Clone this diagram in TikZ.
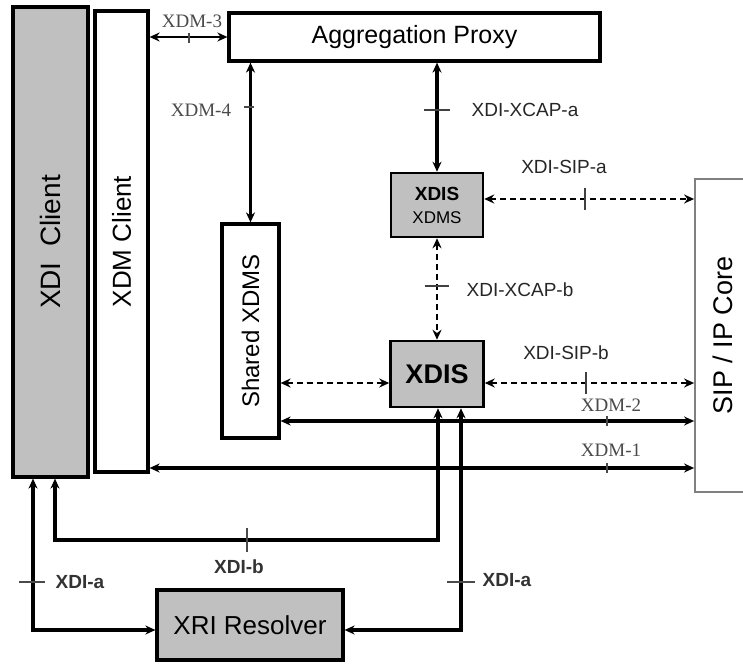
\documentclass[tikz,border=0pt]{standalone}
\usepackage{fontspec}
\setmainfont{Liberation Sans}
\newfontfamily\xserif{Liberation Serif}
\usetikzlibrary{arrows.meta}
\definecolor{boxgray}{HTML}{C0C0C0}
\definecolor{lblgray}{HTML}{4A4A4A}
\definecolor{sipgray}{HTML}{808080}
\tikzset{
  blk/.style={draw, line width=3.2pt, inner sep=0pt, align=center},
  graybox/.style={blk, fill=boxgray},
  conn/.style={line width=3.2pt, {Stealth[length=10pt,width=9pt]}-{Stealth[length=10pt,width=9pt]}},
  dconn/.style={line width=2.6pt, dash pattern=on 6pt off 4pt, {Stealth[length=10pt,width=9pt]}-{Stealth[length=10pt,width=9pt]}},
  tickg/.style={line width=1.6pt, draw=lblgray},
  tickd/.style={line width=2.2pt, draw=black!75},
  sansl/.style={font=\fontsize{19}{22}\selectfont, text=black!85},
  serifl/.style={font=\xserif\fontsize{19}{20}\selectfont, text=lblgray},
  boldl/.style={font=\bfseries\fontsize{19}{22}\selectfont, text=black!80},
}
\begin{document}
\begin{tikzpicture}[x=1pt,y=-1pt]
\useasboundingbox (0,0) rectangle (743,663);
\clip (0,0) rectangle (743,663);

% boxes
\node[graybox, minimum width=75pt, minimum height=470pt] (xdic) at (50.5,242)
  {\rotatebox{90}{\fontsize{28}{30}\selectfont XDI\ \ Client}};
\node[blk, minimum width=53pt, minimum height=461pt] (xdmc) at (121.5,241.5)
  {\rotatebox{90}{\fontsize{26}{28}\selectfont XDM Client}};
\node[blk, minimum width=371pt, minimum height=48pt, font=\fontsize{25}{28}\selectfont] (agg) at (414.5,37) {Aggregation Proxy};
\node[blk, minimum width=57pt, minimum height=214pt] (shared) at (250.5,331)
  {\rotatebox{90}{\fontsize{24}{28}\selectfont Shared XDMS}};
\node[graybox, line width=2.5pt, minimum width=92pt, minimum height=64pt, font=\fontsize{17}{23}\selectfont] (xdisx) at (437,205)
  {{\bfseries\fontsize{19}{23}\selectfont XDIS}\\XDMS};
\node[graybox, line width=2.5pt, minimum width=93pt, minimum height=66pt, font=\bfseries\fontsize{27}{28}\selectfont] (xdis) at (437,374) {XDIS};
\node[draw=sipgray, line width=1.8pt, inner sep=0pt, minimum width=56pt, minimum height=313pt] (sip) at (723,335.5)
  {\rotatebox{90}{\fontsize{27}{30}\selectfont SIP / IP Core}};
\node[graybox, minimum width=186pt, minimum height=70pt, font=\fontsize{26}{28}\selectfont] (xri) at (250,625) {XRI Resolver};

% helper coordinates
\coordinate (ysa) at (0,199);
\coordinate (yd) at (0,383);
\coordinate (y2) at (0,421);
\coordinate (y1) at (0,468);
\coordinate (bL) at (55,540);
\coordinate (bR) at (438,540);
\coordinate (aL) at (33,630);
\coordinate (aR) at (461,630);

% connectors
\draw[conn, line width=2.4pt] (xdmc.east |- agg.west) -- (agg.west);
\draw[conn, line width=2.4pt] (shared.north |- agg.south) -- (shared.north);
\draw[conn] (xdisx.north |- agg.south) -- (xdisx.north);
\draw[dconn] (xdisx.east |- ysa) -- (sip.west |- ysa);
\draw[dconn] (xdisx.south) -- (xdis.north);
\draw[dconn] (shared.east |- yd) -- (xdis.west |- yd);
\draw[dconn] (xdis.east |- yd) -- (sip.west |- yd);
\draw[conn] (shared.east |- y2) -- (sip.west |- y2);
\draw[conn] (xdmc.east |- y1) -- (sip.west |- y1);
\draw[conn] (xdis.south -| bR) -- (bR) -- (bL) -- (xdic.south -| bL);
\draw[conn] (xdic.south -| aL) -- (aL) -- (xri.west |- aL);
\draw[conn] (xdis.south -| aR) -- (aR) -- (xri.east |- aR);

% ticks
\draw[tickg] (189,33) -- (189,43);
\draw[tickg] (244,107) -- (254,107);
\draw[tickd] (424,110) -- (450,110);
\draw[tickd] (585,188) -- (585,210);
\draw[tickd] (425,286) -- (449,286);
\draw[tickd] (586,372) -- (586,394);
\draw[tickg] (607,416) -- (607,426);
\draw[tickg] (607,463) -- (607,473);
\draw[tickg, line width=2.4pt] (247,528) -- (247,552);
\draw[tickg, line width=2.4pt] (19,582) -- (45,582);
\draw[tickg, line width=2.4pt] (447,582) -- (475,582);

% labels
\node[serifl] (l3) at (192,21) {XDM-3};
\node[serifl] (l4) at (201,110) {XDM-4};
\node[sansl] (lxa) at (525,110) {XDI-XCAP-a};
\node[sansl] (lsa) at (564,167) {XDI-SIP-a};
\node[sansl] (lxb) at (520,290) {XDI-XCAP-b};
\node[sansl] (lsb) at (566,353) {XDI-SIP-b};
\node[serifl] (l2) at (611,405) {XDM-2};
\node[serifl] (l1) at (611,450) {XDM-1};
\node[boldl] (lb) at (239,567) {XDI-b};
\node[boldl] (la1) at (80,582) {XDI-a};
\node[boldl] (la2) at (507,580) {XDI-a};
\end{tikzpicture}
\end{document}
